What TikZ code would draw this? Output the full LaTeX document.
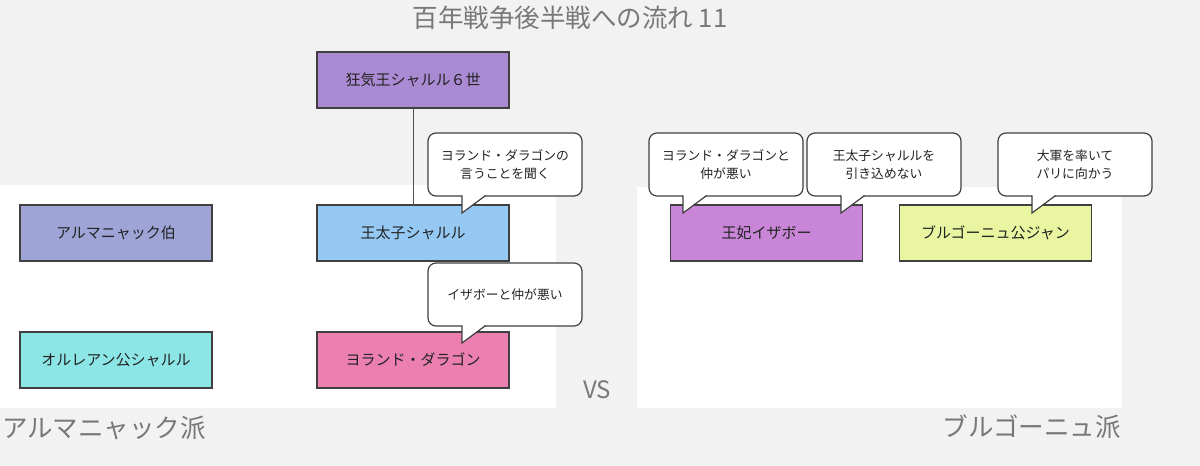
\documentclass[tikz,border=0pt]{standalone}
\usepackage{fontspec}
\setmainfont{Noto Sans CJK JP}
\usepackage{graphicx}
\definecolor{bg}{HTML}{F2F2F2}
\definecolor{boxline}{HTML}{404040}
\definecolor{txt}{HTML}{222222}
\definecolor{graytxt}{HTML}{787878}
\definecolor{cKing}{HTML}{AA8AD2}
\definecolor{cDauphin}{HTML}{95C9F4}
\definecolor{cArm}{HTML}{9EA4D6}
\definecolor{cOrl}{HTML}{8DE6E6}
\definecolor{cYol}{HTML}{EB7FB0}
\definecolor{cIsa}{HTML}{C986D8}
\definecolor{cJean}{HTML}{E9F5A0}
\newcommand{\speechbubble}[4]{%
  \node[bub, anchor=north west] (#1) at (#2,#3) {#4};
  \path (#1.south west) ++(34,0) coordinate (#1a) ++(0,17) coordinate (#1t) ++(23,-17) coordinate (#1b);
  \fill[white] ([yshift=0.9pt]#1a) -- ([yshift=0.9pt]#1b) -- (#1t) -- cycle;
  \draw[ptr] ([yshift=0.6pt]#1a) -- (#1t) -- ([yshift=0.4pt,xshift=0.5pt]#1b);
}
\begin{document}
\begin{tikzpicture}[x=1pt,y=-1pt,
  panel/.style={fill=white},
  box/.style={draw=boxline, line width=1.2pt, minimum width=192pt, minimum height=56pt,
    inner sep=0pt, outer sep=0pt, font=\fontsize{15}{17}\selectfont, text=txt},
  bub/.style={draw=boxline, fill=white, line width=1.2pt, rounded corners=8pt,
    minimum width=154pt, minimum height=63pt, inner sep=0pt, outer sep=0pt,
    align=center, font=\fontsize{12.8}{18}\selectfont, text=txt},
  ptr/.style={draw=boxline, line width=1.2pt},
  link/.style={draw=boxline!90, line width=1pt},
  biglabel/.style={text=graytxt, inner sep=0pt, font=\fontsize{25.5}{28}\selectfont},
]
\fill[bg] (0,0) rectangle (1200,466);
\useasboundingbox (0,0) rectangle (1200,466);
% panels
\fill[panel] (0,185) rectangle (556,408);
\fill[panel] (637,187) rectangle (1122,408);
% title and labels
\node[biglabel] (title) at (570,18) {百年戦争後半戦への流れ 11};
\node[biglabel, anchor=west] (armlabel) at (2,428) {アルマニャック派};
\node[biglabel, anchor=east] (burlabel) at (1121,427) {ブルゴーニュ派};
\node[biglabel, font=\fontsize{24}{26}\selectfont] (vs) at (597,390) {VS};
% boxes
\node[box, fill=cKing] (king) at (413,80) {狂気王シャルル６世};
\node[box, fill=cDauphin] (dauphin) at (413,233) {王太子シャルル};
\node[box, fill=cArm] (armagnac) at (116,233) {アルマニャック伯};
\node[box, fill=cOrl] (orleans) at (116,360) {オルレアン公シャルル};
\node[box, fill=cYol] (yolande) at (413,360) {ヨランド・ダラゴン};
\node[box, fill=cIsa] (isabeau) at (766.5,233) {王妃イザボー};
\node[box, fill=cJean] (jean) at (995.5,233) {ブルゴーニュ公ジャン};
% connector
\draw[link] (king.south) -- (dauphin.north);
% speech bubbles
\speechbubble{bA}{428}{133}{ヨランド・ダラゴンの\\言うことを聞く}
\speechbubble{bB}{428}{263}{イザボーと仲が悪い}
\speechbubble{bC}{649}{133}{ヨランド・ダラゴンと\\仲が悪い}
\speechbubble{bD}{807}{133}{王太子シャルルを\\引き込めない}
\speechbubble{bE}{998}{133}{大軍を率いて\\パリに向かう}
\end{tikzpicture}
\end{document}
